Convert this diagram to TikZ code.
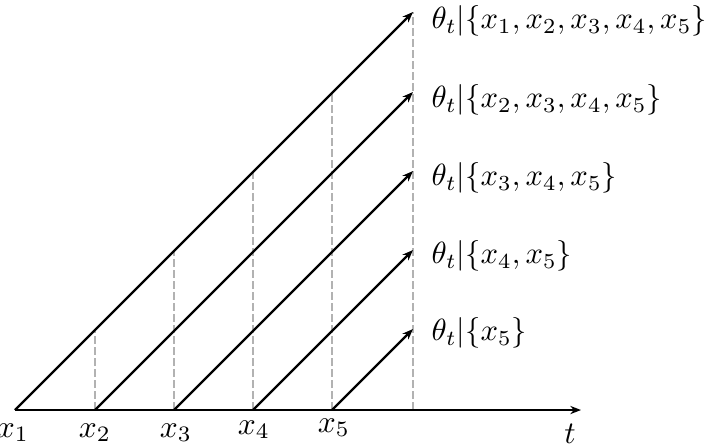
\documentclass[tikz,border=0pt]{standalone}
\usetikzlibrary{arrows.meta}
\begin{document}
\begin{tikzpicture}[x=0.318pt,y=-0.318pt,
  axisline/.style={line width=0.8pt,-{Stealth[length=3.4pt,width=2.6pt]}},
  diag/.style={line width=0.7pt,-{Stealth[length=3.4pt,width=2.6pt]}},
  guide/.style={gray!60,line width=0.45pt,dash pattern=on 2.4pt off 1.1pt},
  lab/.style={anchor=west,inner sep=0pt,scale=0.975},
  xlab/.style={anchor=north,inner sep=0pt}]
\useasboundingbox (0,0) rectangle (706,446);
% axis points
\coordinate (x1) at (15,410);
\coordinate (x2) at (95,410);
\coordinate (x3) at (174,410);
\coordinate (x4) at (253,410);
\coordinate (x5) at (332,410);
\coordinate (x6) at (413,410);
\coordinate (axend) at (581,410);
% tips
\coordinate (t1) at (413,12);
\coordinate (t2) at (413,92);
\coordinate (t3) at (413,171);
\coordinate (t4) at (413,250);
\coordinate (t5) at (413,329);
% dashed top ends (on the x1 line)
\coordinate (d2) at (95,330);
\coordinate (d3) at (174,251);
\coordinate (d4) at (253,172);
\coordinate (d5) at (332,91);
% guides
\draw[guide] (x2) -- (d2);
\draw[guide] (x3) -- (d3);
\draw[guide] (x4) -- (d4);
\draw[guide] (x5) -- (d5);
\draw[guide] (x6) -- (t1);
% axis
\draw[axisline] (x1) -- (axend);
% diagonals
\draw[diag] (x1) -- (t1);
\draw[diag] (x2) -- (t2);
\draw[diag] (x3) -- (t3);
\draw[diag] (x4) -- (t4);
\draw[diag] (x5) -- (t5);
% labels
\node[lab] (l1) at (431,21) {$\theta_t|\{x_1,x_2,x_3,x_4,x_5\}$};
\node[lab] (l2) at (431,100) {$\theta_t|\{x_2,x_3,x_4,x_5\}$};
\node[lab] (l3) at (431,178) {$\theta_t|\{x_3,x_4,x_5\}$};
\node[lab] (l4) at (431,256) {$\theta_t|\{x_4,x_5\}$};
\node[lab] (l5) at (431,333) {$\theta_t|\{x_5\}$};
\node[xlab] (n1) at (13,423) {$x_1$};
\node[xlab] (n2) at (95,423) {$x_2$};
\node[xlab] (n3) at (176,423) {$x_3$};
\node[xlab] (n4) at (254,420) {$x_4$};
\node[xlab] (n5) at (334,418) {$x_5$};
\node[xlab] (nt) at (570,423) {$t$};
\end{tikzpicture}
\end{document}
